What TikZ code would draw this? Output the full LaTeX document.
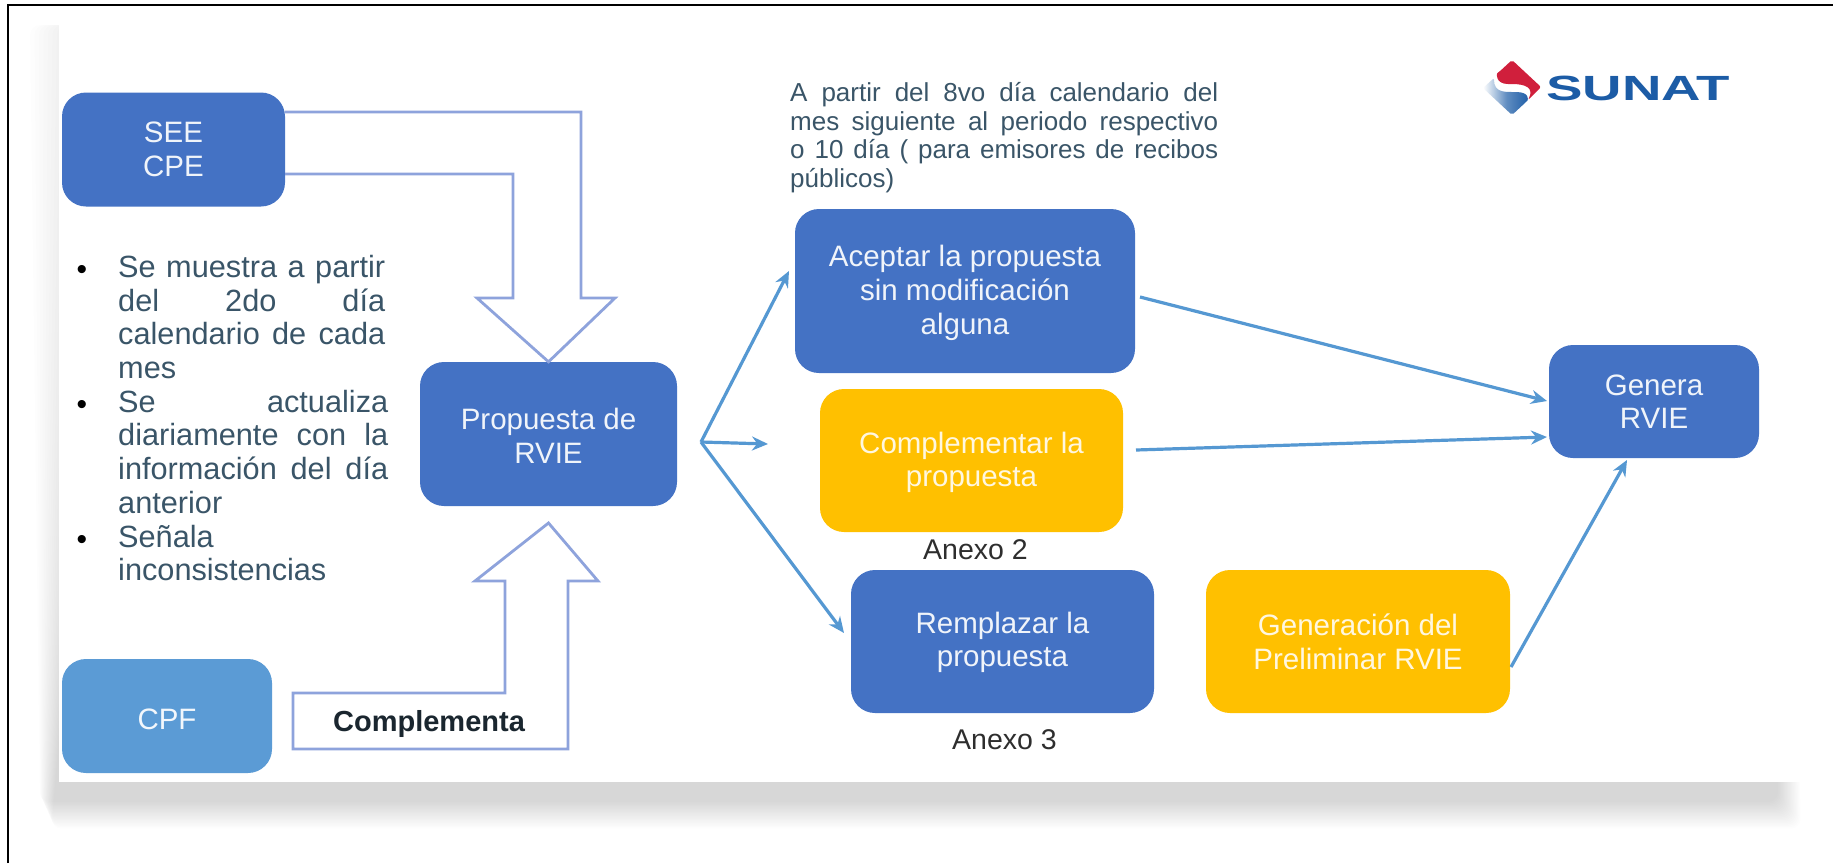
\documentclass[tikz,border=0pt]{standalone}
\usepackage{fontspec}
\setmainfont{Liberation Sans}
\usetikzlibrary{arrows.meta,calc}
\definecolor{bluebox}{HTML}{4472C4}
\definecolor{yellowbox}{HTML}{FFC000}
\definecolor{lightbox}{HTML}{5B9BD5}
\definecolor{arrowblue}{HTML}{5598D2}
\definecolor{outline}{HTML}{8EA3DC}
\definecolor{bodytext}{HTML}{3A5568}
\definecolor{logoblue}{HTML}{1C5CA6}
\definecolor{logored}{HTML}{D01F3C}
\newcommand{\jfull}[2]{\leavevmode\hbox to #1{\spaceskip=.278em plus 1fil minus .1em #2}}
\newcommand{\dn}[1]{\rule{0pt}{\dimexpr 21pt+2\dimexpr #1pt\relax\relax}}
\tikzset{
  x=1pt,y=-1pt,
  box/.style={rounded corners=24pt,minimum width=#1,inner sep=0pt,align=center,
    font=\fontsize{29.5}{33.6}\selectfont},
  blue box/.style={box=#1,fill=bluebox,text=white!92!bluebox},
  yellow box/.style={box=#1,fill=yellowbox,text=white!88!yellowbox},
  light box/.style={box=#1,fill=lightbox,text=white!92!lightbox},
  thin arrow/.style={draw=arrowblue,line width=3.2pt,-{Stealth[length=16pt,width=14pt]}},
  block arrow/.style={draw=outline,line width=2.8pt,line join=miter},
  plain text/.style={inner sep=0pt,anchor=base,text=black!82,font=\fontsize{28.5}{33}\selectfont},
  bullet mark/.style={inner sep=0pt,anchor=base,text=black,font=\fontsize{30}{32}\selectfont},
}
\begin{document}
\begin{tikzpicture}
\useasboundingbox (0,0) rectangle (1833,863);
\fill[white] (0,0) rectangle (1833,863);
% panel shadow
\foreach \i in {0,...,19}{
  \fill[black,opacity=.0065,rounded corners=10pt]
    ({30+4.5*\i},25) -- (1785,25) -- ({1778+1.2*\i},{802+1.4*\i}) -- ({40+.6*\i},{802+1.4*\i}) -- cycle;
}
\fill[white] (59,8) rectangle (1833,782);
% frame
\draw[black,line width=2.6pt] (8,863) -- (8,5) -- (1833,5);

% boxes
\node[blue box=223pt,minimum height=114pt] (see) at (173.5,149.5) {SEE\\CPE};
\node[light box=210pt,minimum height=114pt] (cpf) at (167,716) {\dn{3}CPF};
\node[blue box=257pt,minimum height=144pt] (prop) at (548.5,434) {\dn{2}Propuesta de\\RVIE};
\node[blue box=340pt,minimum height=164pt] (acep) at (965,291) {\dn{2}Aceptar la propuesta\\sin modificación\\alguna};
\node[yellow box=303pt,minimum height=143pt] (comp) at (971.5,460.5) {\dn{2}Complementar la\\propuesta};
\node[blue box=303pt,minimum height=143pt] (remp) at (1002.5,641.5) {\dn{1}Remplazar la\\propuesta};
\node[yellow box=304pt,minimum height=143pt] (prel) at (1358,641.5) {Generación del\\Preliminar RVIE};
\node[blue box=210pt,minimum height=113pt] (gen) at (1654,401.5) {Genera\\RVIE};

% block arrows
\draw[block arrow] (see.east |- 0,112) -- (581,112) -- (581,298) -- (615,298) -- (prop.north)
  -- (477,298) -- (513,298) -- (513,174) -- (see.east |- 0,174);
\draw[block arrow] (prop.south |- 0,523) -- (598,581) -- (568,581) -- (568,749) -- (293,749) -- (293,693) -- (505,693) -- (505,581) -- (475,581) -- cycle;
\node[inner sep=0pt,anchor=base,text=black!55!bodytext,font=\fontsize{29}{33}\bfseries\selectfont] (cmp) at (429,731) {Complementa};

% thin arrows
\coordinate (fork) at (701,442);
\coordinate (t1) at (789,271);
\coordinate (t2) at (768,444);
\coordinate (t3) at (844,633);
\coordinate (g1) at (1547,401);
\coordinate (g2) at (1547,437);
\coordinate (g3) at (1627,460);
\coordinate (s1) at (1140,297);
\coordinate (s2) at (1136,450);
\coordinate (s3) at (1511,667);
\draw[thin arrow] (fork) -- (t1);
\draw[thin arrow] (fork) -- (t2);
\draw[thin arrow] (fork) -- (t3);
\draw[thin arrow] (s1) -- (g1);
\draw[thin arrow] (s2) -- (g2);
\draw[thin arrow] (s3) -- (g3);

% left text
\node[bullet mark] (b1) at (82,279) {•};
\node[bullet mark] (b2) at (82,414) {•};
\node[bullet mark] (b3) at (82,549) {•};
\node[inner sep=0pt,anchor=north west,text width=272pt,align=left,text=bodytext,
  font=\fontsize{30.7}{33.7}\selectfont] (bul) at (118,255) {%
  \jfull{267pt}{Se muestra a partir}\\
  \jfull{267pt}{del 2do día}\\
  \jfull{267pt}{calendario de cada}\\
  mes\\
  \jfull{270pt}{Se actualiza}\\
  \jfull{270pt}{diariamente con la}\\
  \jfull{270pt}{información del día}\\
  anterior\\
  Señala\\
  inconsistencias};

% top text
\node[inner sep=0pt,anchor=north west,text width=430pt,align=left,text=bodytext,
  font=\fontsize{26}{28.7}\selectfont] (note) at (790,82) {%
  \jfull{428pt}{A partir del 8vo día calendario del}\\
  \jfull{428pt}{mes siguiente al periodo respectivo}\\
  \jfull{428pt}{o 10 día ( para emisores de recibos}\\
  públicos)};

\node[plain text] (an2) at (975.5,559) {Anexo 2};
\node[plain text] (an3) at (1004.5,749) {Anexo 3};

% logo
\fill[logored,rounded corners=2pt] (1512,60) -- (1541,87) -- (1528,100) .. controls (1534,88) and (1526,84) .. (1510,84)
  .. controls (1496,84) and (1496,74) .. (1499,72) -- cycle;
\shade[left color=white,right color=logoblue,rounded corners=2pt,middle color=logoblue!70]
  (1483,88) -- (1494,78) .. controls (1494,92) and (1504,92) .. (1514,92)
  .. controls (1530,92) and (1528,100) .. (1526,102) -- (1512,115) -- cycle;
\node[inner sep=0pt,anchor=base west,text=logoblue,font=\fontsize{35}{35}\bfseries\selectfont] (sunat) at (1546,100)
  {\scalebox{1.56}[1]{SUNAT}};
\end{tikzpicture}
\end{document}
